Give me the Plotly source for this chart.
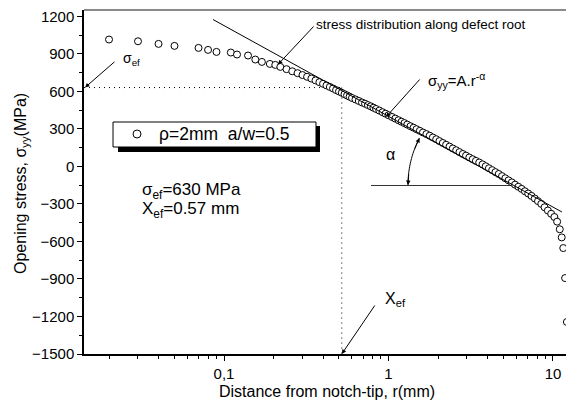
import numpy as np
import plotly.graph_objects as go

# distance from notch tip (mm) and opening stress (MPa)
r_mm = [0.020, 0.030, 0.040, 0.050, 0.070, 0.080, 0.090, 0.110, 0.120, 0.140,
        0.155, 0.170, 0.190, 0.205, 0.220,
        0.24, 0.26, 0.28, 0.30, 0.32, 0.34, 0.36, 0.38, 0.40, 0.42,
        0.44, 0.46, 0.48, 0.50, 0.52, 0.54, 0.56, 0.58, 0.60, 0.63,
        0.66, 0.69, 0.72, 0.75, 0.78, 0.81, 0.84, 0.88, 0.92, 0.96,
        1.00, 1.05, 1.10, 1.15, 1.20, 1.25, 1.30, 1.36, 1.42, 1.48,
        1.55, 1.62, 1.70, 1.78, 1.86, 1.95, 2.04, 2.14, 2.24, 2.35,
        2.46, 2.58, 2.70, 2.83, 2.96, 3.10, 3.25, 3.40, 3.56, 3.73,
        3.90, 4.08, 4.27, 4.47, 4.68, 4.90, 5.13, 5.37, 5.62, 5.88,
        6.16, 6.45, 6.75, 7.07, 7.40, 7.75, 8.11, 8.49, 8.89, 9.31,
        9.75, 10.2, 10.6, 11.0, 11.3, 11.55, 11.85, 12.15]
sigma_yy = [1014, 1000, 979, 963, 947, 931, 915, 910, 894, 886,
            854, 835, 819, 811, 795,
            777, 760, 745, 730, 716, 702, 687, 673, 660, 647,
            635, 623, 610, 599, 588, 577, 567, 557, 547, 535,
            523, 511, 501, 490, 480, 469, 459, 446, 433, 421,
            409, 395, 382, 369, 357, 346, 334, 321, 309, 297,
            284, 271, 258, 245, 231, 217, 202, 187, 173, 158,
            143, 129, 114, 99, 86, 71, 57, 44, 31, 16,
            1, -15, -30, -46, -61, -78, -95, -112, -128, -146,
            -163, -180, -199, -217, -236, -257, -278, -300, -327, -353,
            -379, -405, -442, -503, -568, -653, -893, -1244]

series_name = "\u03c1=2mm\u00a0\u00a0a/w=0.5"

# effective values
sigma_ef = 630
x_ef_drawn = 0.52

# axis setup
x_range = [np.log10(0.01409), np.log10(12.0)]
y_range = [-1500, 1250]
x_tickvals = [0.1, 1, 10]
x_ticktext = ["0,1", "1", "10"]
x_minor = [0.02, 0.03, 0.04, 0.05, 0.06, 0.07, 0.08, 0.09,
           0.2, 0.3, 0.4, 0.5, 0.6, 0.7, 0.8, 0.9,
           2, 3, 4, 5, 6, 7, 8, 9]
y_tickvals = [-1500, -1200, -900, -600, -300, 0, 300, 600, 900, 1200]

# straight power-law guide line (two end points)
fit_r = [0.0857, 11.34]
fit_s = [1174, -365]

FONT = "Arial, Liberation Sans, sans-serif"
MARKER = dict(symbol="circle", size=7, color="white",
              line=dict(color="black", width=1))

fig = go.Figure()
fig.add_trace(go.Scatter(x=r_mm, y=sigma_yy, mode="markers",
                         name=series_name, marker=MARKER, showlegend=False))

shapes = [
    # sigma_ef and X_ef dotted guides
    dict(type="line", xref="x", yref="y", x0=10 ** x_range[0], x1=x_ef_drawn,
         y0=sigma_ef, y1=sigma_ef,
         line=dict(color="black", width=1, dash="1px,4px"), layer="below"),
    dict(type="line", xref="x", yref="y", x0=x_ef_drawn, x1=x_ef_drawn,
         y0=sigma_ef, y1=-1500,
         line=dict(color="black", width=1, dash="1px,4px"), layer="below"),
    # power-law line
    dict(type="line", xref="x", yref="y", x0=fit_r[0], x1=fit_r[1],
         y0=fit_s[0], y1=fit_s[1], line=dict(color="black", width=1)),
    # base line of the alpha angle
    dict(type="line", xref="paper", yref="paper", x0=0.5954, x1=0.8838,
         y0=0.4898, y1=0.4898, line=dict(color="#333333", width=1.2)),
    # top frame line
    dict(type="line", xref="paper", yref="paper", x0=0, x1=1, y0=1, y1=1,
         line=dict(color="#8a8a8a", width=2)),
    # legend box: shadow, frame, symbol
    dict(type="rect", xref="paper", yref="paper", x0=0.0705, x1=0.4896,
         y0=0.5872, y1=0.6628, fillcolor="black", line=dict(width=0)),
    dict(type="rect", xref="paper", yref="paper", x0=0.0602, x1=0.4813,
         y0=0.6017, y1=0.6744, fillcolor="white",
         line=dict(color="black", width=1)),
    dict(type="circle", xref="paper", yref="paper", xsizemode="pixel",
         ysizemode="pixel", xanchor=0.11, yanchor=0.6395,
         x0=-4, x1=4, y0=-4, y1=4, fillcolor="white",
         line=dict(color="black", width=1)),
]

# arc marking the angle alpha (centre at the intersection point)
cx, cy, rx, ry = 0.8838, 0.4913, 102 / 482, 102 / 344
t = np.radians(np.linspace(180, 207.4, 30))
px = cx + rx * np.cos(t)
py = cy - ry * np.sin(t)
path = "M " + " L ".join(f"{a:.4f},{b:.4f}" for a, b in zip(px, py))
shapes.append(dict(type="path", xref="paper", yref="paper", path=path,
                   line=dict(color="black", width=1)))

ann = []
def arrow(x, y, ax, ay, xref="paper", yref="paper"):
    ann.append(dict(x=x, y=y, xref=xref, yref=yref, ax=ax, ay=ay, text="",
                    showarrow=True, arrowhead=2, arrowsize=0.9, arrowwidth=1,
                    arrowcolor="black", standoff=0, startstandoff=0))

def label(x, y, text, size, xanchor="left", yanchor="middle"):
    ann.append(dict(x=x, y=y, xref="paper", yref="paper", text=text,
                    showarrow=False, xanchor=xanchor, yanchor=yanchor,
                    font=dict(family=FONT, size=size, color="black")))

label(0.477, 0.959, "stress distribution along defect root", 13.5)
arrow(0.4025, 0.8416, 37, -39.5)
label(0.0768, 0.857, "\u03c3<sub>ef</sub>", 14)
arrow(0.002, sigma_ef, 31, -27, yref="y")
label(0.1515, 0.6395, series_name, 17.5)
label(0.1162, 0.4738, "\u03c3<sub>ef</sub>=630 MPa", 17)
label(0.1162, 0.4186, "X<sub>ef</sub>=0.57 mm", 17)
label(0.7095, 0.7965, "\u03c3<sub>yy</sub>=A.r<sup>-\u03b1</sup>", 15)
arrow(0.6266, 0.689, 35, -39)
label(0.6349, 0.5785, "\u03b1", 16, xanchor="center")
arrow(0.696, 0.6279, -5.3, 12.1)
arrow(0.6722, 0.4913, 0.8, -12.4)
label(0.6203, 0.157, "X<sub>ef</sub>", 16)
arrow(np.log10(x_ef_drawn), -1500, 34, -50, xref="x", yref="y")

# axis titles
ann.append(dict(x=(327 - 84) / 482, y=(354 - 391) / 344, xref="paper", yref="paper",
                text="Distance from notch-tip, r(mm)", showarrow=False,
                xanchor="center", yanchor="middle",
                font=dict(family=FONT, size=16, color="black")))
ann.append(dict(x=(21 - 84) / 482, y=(354 - 184) / 344, xref="paper", yref="paper",
                text="Opening stress, \u03c3<sub>yy</sub>(MPa)", showarrow=False,
                textangle=-90, xanchor="center", yanchor="middle",
                font=dict(family=FONT, size=16, color="black")))

fig.update_layout(
    width=566, height=406,
    margin=dict(l=84, r=0, t=10, b=52),
    paper_bgcolor="white", plot_bgcolor="white",
    font=dict(family=FONT, color="black"),
    shapes=shapes, annotations=ann,
    showlegend=False,
    xaxis=dict(type="log", range=x_range, showgrid=False, zeroline=False,
               showline=True, linecolor="black", linewidth=1.5,
               tickvals=x_tickvals, ticktext=x_ticktext,
               ticks="outside", ticklen=5, tickwidth=1, tickcolor="black",
               tickfont=dict(family=FONT, size=15, color="black"),
               minor=dict(tickvals=x_minor, ticks="outside", ticklen=3,
                          tickwidth=1, tickcolor="black")),
    yaxis=dict(range=y_range, showgrid=False, zeroline=False,
               showline=True, linecolor="black", linewidth=1.5,
               tickvals=y_tickvals,
               ticks="outside", ticklen=5, tickwidth=1, tickcolor="black",
               tickfont=dict(family=FONT, size=15, color="black"),
               minor=dict(dtick=150, tick0=-1500, ticks="outside", ticklen=3,
                          tickwidth=1, tickcolor="black")),
)

fig.write_html("out.html")
